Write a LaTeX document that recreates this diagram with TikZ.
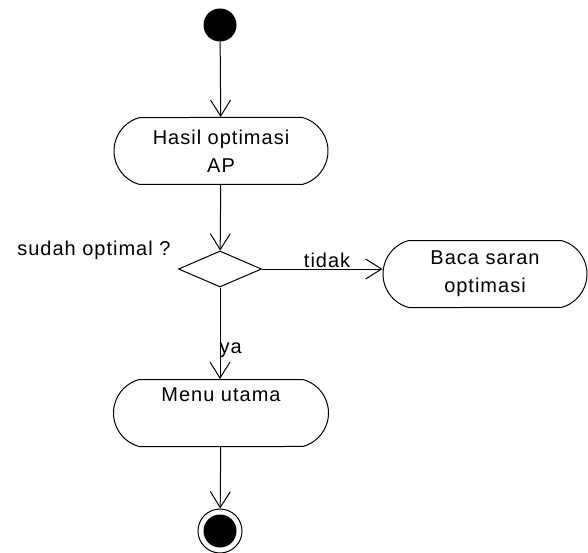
\documentclass[tikz,border=0pt]{standalone}
\usepackage{fontspec}
\setmainfont{Liberation Sans}[LetterSpace=5]
\usetikzlibrary{shapes.misc, shapes.geometric, arrows.meta}

\begin{document}
\begin{tikzpicture}[x=1pt, y=-1pt, line width=1pt,
        aksi/.style={draw, rounded rectangle, rounded rectangle arc length=150, inner sep=0pt,
            minimum height=67pt, align=center, font=\fontsize{20}{28}\selectfont},
        alur/.style={-{Straight Barb[length=16pt, width=20pt]}},
        teks/.style={font=\fontsize{20}{28}\selectfont, inner sep=1pt}]
            \useasboundingbox (0,0) rectangle (588,553);
            \node[draw, circle, fill=black, minimum size=32pt, inner sep=0pt] (mulai) at (220,25) {};
            \node[aksi, minimum width=214pt] (hasil) at (221,151) {Hasil optimasi\\AP};
            \node[draw, diamond, aspect=2.3, minimum width=83pt, minimum height=36pt, inner sep=0pt] (cek) at (220,269) {};
            \node[teks, anchor=east] (tanya) at (172,250) {sudah optimal ?};
            \node[aksi, minimum width=204pt] (baca) at (485,274) {Baca saran\\optimasi};
            \node[aksi, minimum width=215pt] (menu) at (221,413) {Menu utama\\\strut};
            \node[draw, circle, minimum size=44pt, inner sep=0pt] (selesai) at (220,531) {};
            \fill (selesai) circle (16.5pt);
            \draw[alur] (mulai) -- (hasil);
            \draw[alur] (hasil) -- (cek);
            \draw[alur] (cek.east) -- node[teks, pos=0.54, above]{tidak} (cek.east -| baca.west);
            \draw[alur] (cek.south) -- node[teks, pos=0.69, right, inner sep=0pt, xshift=-1pt]{ya} (cek.south |- menu.north);
            \draw[alur] (menu) -- (selesai);
        \end{tikzpicture}
\end{document}
